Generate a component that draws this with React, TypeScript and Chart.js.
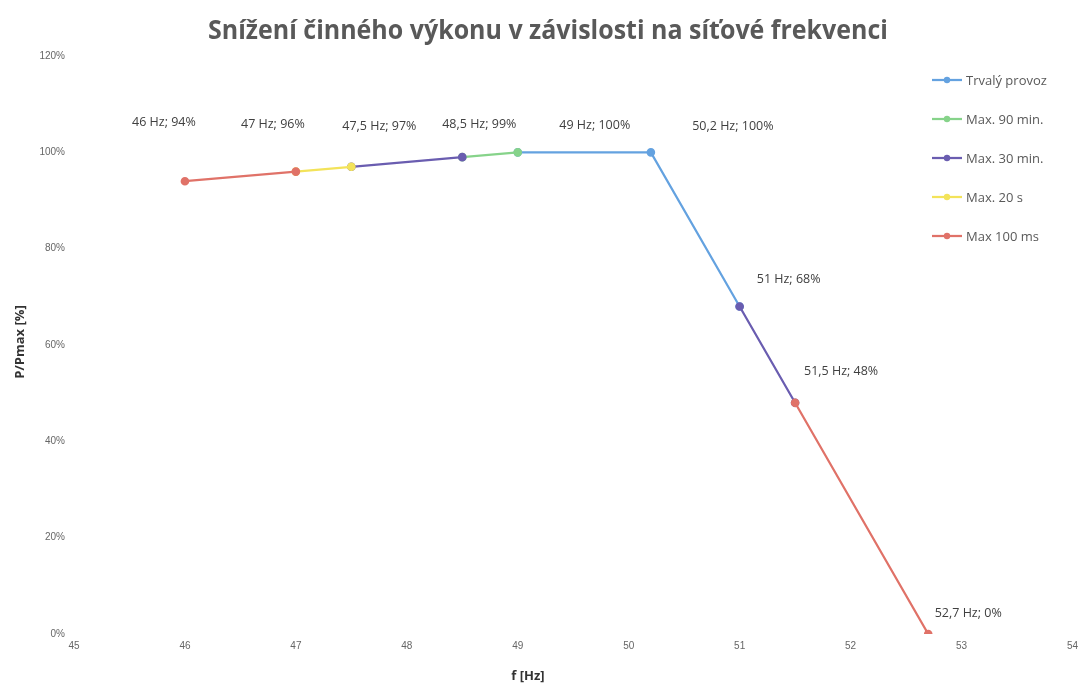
import { useEffect, useRef } from "react";
import { Chart, registerables } from "chart.js";

Chart.register(...registerables);

const TITLE = "Snížení činného výkonu v závislosti na síťové frekvenci";
const X_TITLE = "f [Hz]";
const Y_TITLE = "P/Pmax [%]";

const seriesNames = ["Trvalý provoz", "Max. 90 min.", "Max. 30 min.", "Max. 20 s", "Max 100 ms"];
const seriesColors = ["#64a2e0", "#86d38a", "#6a5db0", "#f3e35a", "#e07268"];

const trvalyFreq = [49, 50.2, 51];
const trvalyPower = [100, 100, 68];
const max90Freq = [48.5, 49];
const max90Power = [99, 100];
const max30Freq = [47.5, 48.5, 49.75, 51, 51.5];
const max30Power: (number | null)[] = [97, 99, null, 68, 48];
const max20sFreq = [47, 47.5];
const max20sPower = [96, 97];
const max100Freq = [46, 47, 49.25, 51.5, 52.7];
const max100Power: (number | null)[] = [94, 96, null, 48, 0];

const labelFreq = [46, 47, 47.5, 48.5, 49, 50.2, 51, 51.5, 52.7];
const labelPower = [94, 96, 97, 99, 100, 100, 68, 48, 0];
const labelOffsets = [
  [-21, -59], [-23, -47], [28, -40], [17, -33], [77, -27], [82, -26], [49, -27], [46, -31], [40, -21],
];

const xTicksMin = 45, xTicksMax = 54, yTicksMin = 0, yTicksMax = 120, yStep = 20;

const zip = (xs: number[], ys: (number | null)[]) => xs.map((x, i) => ({ x, y: ys[i] }));

const fmtFreq = (f: number) => String(f).replace(".", ",");

const overlay = {
  id: "overlay",
  afterDraw(chart: any) {
    const ctx = chart.ctx;
    const xs = chart.scales.x, ys = chart.scales.y;
    ctx.save();
    // title (condensed like Calibri)
    ctx.fillStyle = "#595959";
    ctx.font = "bold 27px 'Open Sans', sans-serif";
    ctx.textAlign = "center";
    ctx.textBaseline = "middle";
    ctx.save();
    ctx.translate(548, 31);
    ctx.scale(0.925, 1);
    ctx.fillText(TITLE, 0, 0);
    ctx.restore();
    // axis titles
    ctx.fillStyle = "#333333";
    ctx.font = "bold 13px 'Open Sans', sans-serif";
    ctx.fillText(X_TITLE, 528, 676);
    ctx.save();
    ctx.translate(20, 342);
    ctx.rotate(-Math.PI / 2);
    ctx.fillText(Y_TITLE, 0, 0);
    ctx.restore();
    // data labels
    ctx.fillStyle = "#404040";
    ctx.font = "12.5px 'Open Sans', sans-serif";
    labelFreq.forEach((f, i) => {
      const px = xs.getPixelForValue(f) + labelOffsets[i][0];
      const py = ys.getPixelForValue(labelPower[i]) + labelOffsets[i][1];
      ctx.fillText(`${fmtFreq(f)} Hz; ${labelPower[i]}%`, px, py);
    });
    // legend
    ctx.textAlign = "left";
    ctx.font = "13px 'Open Sans', sans-serif";
    seriesNames.forEach((name, i) => {
      const y = 80 + i * 39;
      ctx.strokeStyle = seriesColors[i];
      ctx.lineWidth = 2.25;
      ctx.beginPath();
      ctx.moveTo(932, y);
      ctx.lineTo(962, y);
      ctx.stroke();
      ctx.fillStyle = seriesColors[i];
      ctx.beginPath();
      ctx.arc(947, y, 3.2, 0, Math.PI * 2);
      ctx.fill();
      ctx.fillStyle = "#595959";
      ctx.fillText(name, 966, y + 1);
    });
    ctx.restore();
  },
};

export default function App() {
  const ref = useRef<HTMLCanvasElement>(null);
  useEffect(() => {
    if (!ref.current) return;
    const mk = (i: number, data: any[]) => ({
      label: seriesNames[i],
      data,
      showLine: true,
      spanGaps: false,
      borderColor: seriesColors[i],
      backgroundColor: seriesColors[i],
      pointBackgroundColor: seriesColors[i],
      pointBorderColor: seriesColors[i],
      borderWidth: 2.25,
      pointRadius: 3.2,
    });
    const chart = new Chart(ref.current, {
      type: "scatter",
      data: {
        datasets: [
          mk(4, zip(max100Freq, max100Power)),
          mk(3, zip(max20sFreq, max20sPower)),
          mk(2, zip(max30Freq, max30Power)),
          mk(1, zip(max90Freq, max90Power)),
          mk(0, zip(trvalyFreq, trvalyPower)),
        ],
      },
      options: {
        animation: false,
        responsive: false,
        layout: { padding: { top: 56, right: 9, left: 0, bottom: 0 } },
        plugins: { legend: { display: false }, title: { display: false }, tooltip: { enabled: false } },
        scales: {
          x: {
            type: "linear",
            min: xTicksMin,
            max: xTicksMax,
            afterFit: (s: any) => { s.height = 54; },
            grid: { display: false, drawTicks: false },
            border: { display: false },
            ticks: {
              stepSize: 1,
              padding: 6,
              color: "#666666",
              font: { size: 10, family: "'Liberation Sans', sans-serif" },
            },
          },
          y: {
            min: yTicksMin,
            max: yTicksMax,
            afterFit: (s: any) => { s.width = 74; },
            grid: { display: false, drawTicks: false },
            border: { display: false },
            ticks: {
              stepSize: yStep,
              padding: 9,
              color: "#666666",
              font: { size: 10, family: "'Liberation Sans', sans-serif" },
              callback: (v: any) => `${v}%`,
            },
          },
        },
      },
      plugins: [overlay],
    });
    return () => chart.destroy();
  }, []);
  return (
    <div style={{ position: "absolute", left: 0, top: 0, width: 1084, height: 688, background: "#ffffff" }}>
      <canvas ref={ref} width={1084} height={688} style={{ width: 1084, height: 688 }} />
    </div>
  );
}
